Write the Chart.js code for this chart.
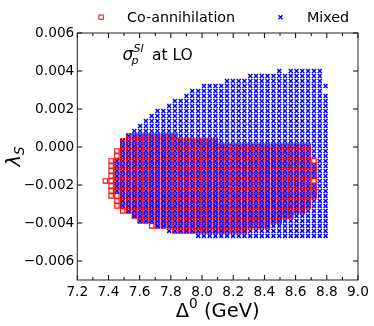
<!DOCTYPE html>
<html>
<head>
<meta charset="utf-8">
<script src="https://cdn.jsdelivr.net/npm/chart.js@4.4.0/dist/chart.umd.min.js"></script>
<style>
  html, body { margin: 0; padding: 0; background: #fff; }
  #wrap { width: 374px; height: 326px; position: relative; }
</style>
</head>
<body>
<div id="wrap"><canvas id="scan"></canvas></div>
<script>
// Δ0 of the scan columns (GeV), left to right
const deltaGrid = [
  7.380, 7.417, 7.454, 7.491, 7.529, 7.566, 7.603, 7.640, 7.677, 7.714,
  7.752, 7.789, 7.826, 7.863, 7.900, 7.937, 7.975, 8.012, 8.049, 8.086,
  8.123, 8.160, 8.198, 8.235, 8.272, 8.309, 8.346, 8.383, 8.420, 8.458,
  8.495, 8.532, 8.569, 8.606, 8.643, 8.680, 8.718, 8.755, 8.792
];

// λS of the scan rows, top to bottom
const lambdaGrid = [
  0.004000, 0.003737, 0.003474, 0.003211, 0.002948, 0.002685, 0.002422,
  0.002159, 0.001896, 0.001633, 0.001370, 0.001107, 0.000844, 0.000581,
  0.000318, 0.000055, -0.000208, -0.000471, -0.000734, -0.000997, -0.001260,
  -0.001523, -0.001786, -0.002049, -0.002312, -0.002575, -0.002838, -0.003101,
  -0.003364, -0.003627, -0.003890, -0.004153, -0.004416, -0.004679
];

// scan map, one string per row (spaces every 10 columns)
// x = Mixed only, o = Co-annihilation only, # = both
const scanRows = [
  '.......... .......... .......... x.xxxxxx.',
  '.......... .......... .....xxxxx xxxxxxxx.',
  '.......... .......... .xxxxxxxxx xxxxxxxx.',
  '.......... .......xxx xxxxxxxxxx xxxxxxxxx',
  '.......... .....xxxxx xxxxxxxxxx xxxxxxxx.',
  '.......... ....xxxxxx xxxxxxxxxx xxxxxxxxx',
  '.......... ..xxxxxxxx xxxxxxxxxx xxxxxxxxx',
  '.......... .xxxxxxxxx xxxxxxxxxx xxxxxxxxx',
  '.........x xxxxxxxxxx xxxxxxxxxx xxxxxxxxx',
  '........xx xxxxxxxxxx xxxxxxxxxx xxxxxxxxx',
  '.......xxx xxxxxxxxxx xxxxxxxxxx xxxxxxxxx',
  '......xxxx xxxxxxxxxx xxxxxxxxxx xxxxxxxxx',
  '.....xxxxx xxxxxxxxxx xxxxxxxxxx xxxxxxxxx',
  '....###### ###xxxxxxx xxxxxxxxxx xxxxxxxxx',
  '...####### ########## xxxxxxxxxx xxxxxxxxx',
  '...####### ########## ########## ######xxx',
  '..o####### ########## ########## ######xxx',
  '..o####### ########## ########## ######xxx',
  '.o######## ########## ########## ######oxx',
  '.o######## ########## ########## #######xx',
  '.o######## ########## ########## #######xx',
  '.o######## ########## ########## #######xx',
  'oo######## ########## ########## ######oxx',
  '.o######## ########## ########## #######xx',
  '.o######## ########## ########## #######xx',
  '.oo####### ########## ########## #######xx',
  '..o####### ########## ########## ######xxx',
  '..o####### ########## ########## ######xxx',
  '...o###### ########## ########## #####xxxx',
  '.....##### ########## ########## ###xxxxxx',
  '......#### ########## ########## #xxxxxxxx',
  '........o# ########## #########x xxxxxxxxx',
  '.......... .x######## #####xxxxx xxxxxxxxx',
  '.......... ......xxxx xxxxxxxxxx xxxxxxxxx'
];

const xTicks = [7.2, 7.4, 7.6, 7.8, 8.0, 8.2, 8.4, 8.6, 8.8, 9.0];
const xTickLabels = ['7.2', '7.4', '7.6', '7.8', '8.0', '8.2', '8.4', '8.6', '8.8', '9.0'];
const xMinorTicks = [7.3, 7.5, 7.7, 7.9, 8.1, 8.3, 8.5, 8.7, 8.9];
const yTicks = [-0.006, -0.004, -0.002, 0, 0.002, 0.004, 0.006];
const yTickLabels = ['\u22120.006', '\u22120.004', '\u22120.002', '0.000', '0.002', '0.004', '0.006'];

// split the map into the two series
const coAnn = [];
const mixed = [];
scanRows.forEach((row, r) => {
  row.replace(/ /g, '').split('').forEach((ch, c) => {
    const pt = { x: deltaGrid[c], y: lambdaGrid[r] };
    if (ch === 'o' || ch === '#') coAnn.push(pt);
    if (ch === 'x' || ch === '#') mixed.push(pt);
  });
});

const FAMILY = '"DejaVu Sans", sans-serif';

// frame, inner ticks, legend and the texts matplotlib-style
const decor = {
  id: 'decor',
  afterDraw(chart) {
    const { ctx, chartArea: a } = chart;
    const xs = chart.scales.x, ys = chart.scales.y;
    ctx.save();
    ctx.strokeStyle = '#000';
    ctx.lineWidth = 1;
    ctx.beginPath();
    xTicks.forEach(v => {
      const px = xs.getPixelForValue(v);
      ctx.moveTo(px, a.bottom); ctx.lineTo(px, a.bottom - 5);
      ctx.moveTo(px, a.top); ctx.lineTo(px, a.top + 5);
    });
    xMinorTicks.forEach(v => {
      const px = xs.getPixelForValue(v);
      ctx.moveTo(px, a.bottom); ctx.lineTo(px, a.bottom - 3);
      ctx.moveTo(px, a.top); ctx.lineTo(px, a.top + 3);
    });
    yTicks.forEach(v => {
      const py = ys.getPixelForValue(v);
      ctx.moveTo(a.left, py); ctx.lineTo(a.left + 5, py);
      ctx.moveTo(a.right, py); ctx.lineTo(a.right - 5, py);
    });
    ctx.stroke();
    ctx.strokeStyle = '#222';
    ctx.strokeRect(a.left, a.top, a.right - a.left, a.bottom - a.top);

    // legend
    ctx.fillStyle = '#000';
    ctx.textBaseline = 'alphabetic';
    ctx.textAlign = 'left';
    ctx.font = '14.3px ' + FAMILY;
    ctx.strokeStyle = '#ff0000';
    ctx.strokeRect(99, 15, 4.3, 4.3);
    ctx.fillText('Co-annihilation', 127, 22);
    ctx.strokeStyle = '#0000ff';
    ctx.lineWidth = 1.4;
    ctx.beginPath();
    ctx.moveTo(278.5, 15.2); ctx.lineTo(282.5, 19.2);
    ctx.moveTo(282.5, 15.2); ctx.lineTo(278.5, 19.2);
    ctx.stroke();
    ctx.lineWidth = 1;
    ctx.fillText('Mixed', 307, 22);

    // annotation: sigma_p^SI at LO
    ctx.font = 'italic 17px ' + FAMILY;
    ctx.fillText('\u03c3', 122.5, 60);
    ctx.font = 'italic 11px ' + FAMILY;
    ctx.fillText('SI', 133.5, 52);
    ctx.fillText('p', 131.5, 64);
    ctx.font = '15.5px ' + FAMILY;
    ctx.fillText('at LO', 152, 60);

    // x axis title: Δ^0 (GeV)
    const cx = (a.left + a.right) / 2;
    ctx.font = '19.5px ' + FAMILY;
    const wD = ctx.measureText('\u0394').width;
    const wRest = ctx.measureText(' (GeV)').width;
    ctx.font = '13.7px ' + FAMILY;
    const w0 = ctx.measureText('0').width;
    const x0 = cx - (wD + w0 + wRest) / 2;
    ctx.font = '19.5px ' + FAMILY;
    ctx.fillText('\u0394', x0, 316.5);
    ctx.font = '13.7px ' + FAMILY;
    ctx.fillText('0', x0 + wD, 308);
    ctx.font = '19.5px ' + FAMILY;
    ctx.fillText(' (GeV)', x0 + wD + w0, 316.5);

    // y axis title: λ_S, rotated
    const cy = (a.top + a.bottom) / 2;
    ctx.translate(20, cy);
    ctx.rotate(-Math.PI / 2);
    ctx.font = 'italic 19.5px ' + FAMILY;
    const wl = ctx.measureText('\u03bb').width;
    ctx.font = 'italic 13.7px ' + FAMILY;
    const ws = ctx.measureText('S').width;
    const l0 = -(wl + ws) / 2;
    ctx.font = 'italic 19.5px ' + FAMILY;
    ctx.fillText('\u03bb', l0, 0);
    ctx.font = 'italic 13.7px ' + FAMILY;
    ctx.fillText('S', l0 + wl, 3.5);
    ctx.restore();
  }
};

new Chart(document.getElementById('scan'), {
  type: 'scatter',
  data: {
    datasets: [
      {
        label: 'Co-annihilation',
        data: coAnn,
        pointStyle: 'rect',
        pointRadius: 3.1,
        borderWidth: 1.1,
        borderColor: '#ff0000',
        backgroundColor: 'rgba(0,0,0,0)',
        order: 1
      },
      {
        label: 'Mixed',
        data: mixed,
        pointStyle: 'crossRot',
        pointRadius: 2.8,
        borderWidth: 1.5,
        borderColor: '#0000ff',
        backgroundColor: '#0000ff',
        order: 0
      }
    ]
  },
  options: {
    responsive: true,
    maintainAspectRatio: false,
    animation: false,
    events: [],
    layout: { padding: { top: 33, right: 16, left: 0, bottom: 0 } },
    plugins: { legend: { display: false }, tooltip: { enabled: false } },
    scales: {
      x: {
        type: 'linear',
        min: 7.2,
        max: 9.0,
        grid: { display: false, drawTicks: false },
        border: { display: false },
        afterBuildTicks: s => { s.ticks = xTicks.map(v => ({ value: v })); },
        afterFit: s => { s.height = 46; },
        ticks: {
          autoSkip: false,
          maxRotation: 0,
          padding: 4,
          color: '#000',
          font: { family: FAMILY, size: 13.7 },
          callback: (v, i) => xTickLabels[i]
        }
      },
      y: {
        type: 'linear',
        min: -0.007,
        max: 0.006,
        grid: { display: false, drawTicks: false },
        border: { display: false },
        afterBuildTicks: s => { s.ticks = yTicks.map(v => ({ value: v })); },
        afterFit: s => { s.width = 77.3; },
        ticks: {
          autoSkip: false,
          padding: 3,
          color: '#000',
          font: { family: FAMILY, size: 13.7 },
          callback: (v, i) => yTickLabels[i]
        }
      }
    }
  },
  plugins: [decor]
});
</script>
</body>
</html>
